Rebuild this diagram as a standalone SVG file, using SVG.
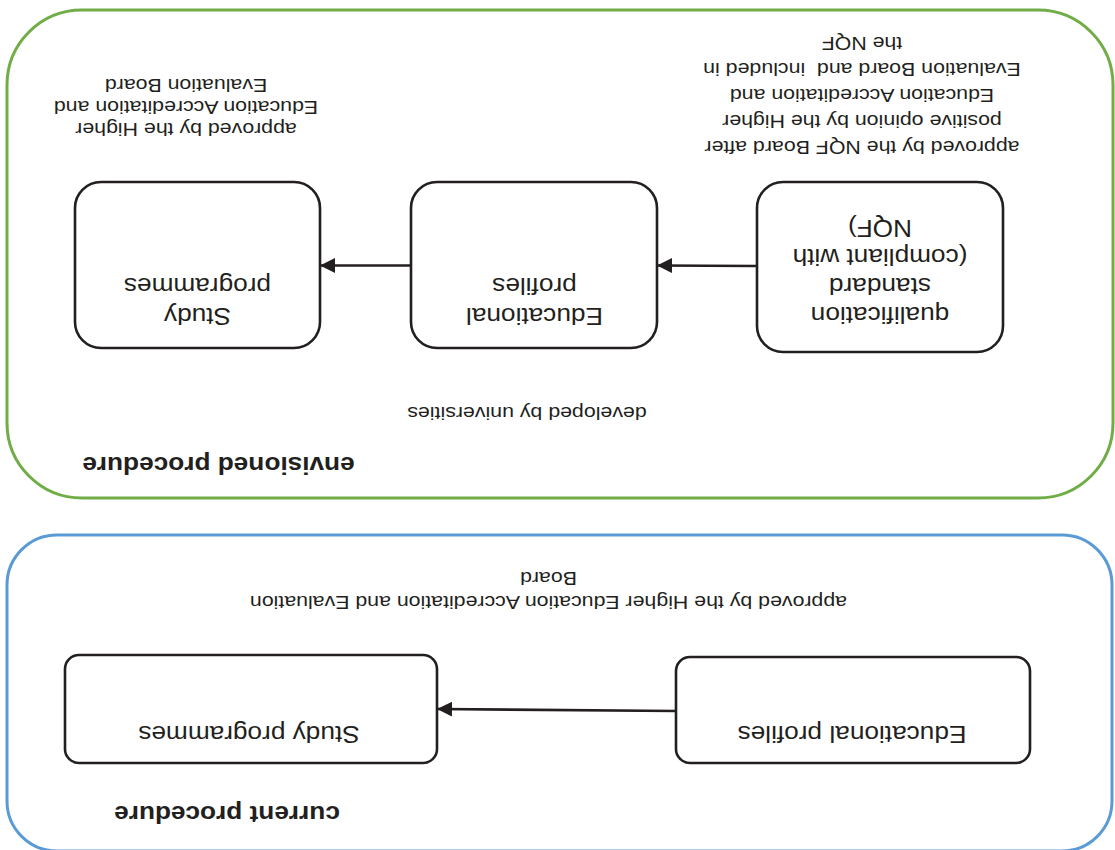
<svg xmlns="http://www.w3.org/2000/svg" width="1115" height="850" viewBox="0 0 1115 850">
<style>
.t{font-family:"Liberation Sans",Arial,sans-serif;fill:#231f20;text-anchor:middle}
.s{font-size:18.7px}
.n{font-size:23px}
.b{font-size:23px;font-weight:bold}
.pre{white-space:pre}
.node{fill:#fff;stroke:#231f20;stroke-width:2.6}
.edge{stroke:#231f20;stroke-width:2.6;fill:none}
</style>
<defs>
<marker id="arr" viewBox="0 0 15 15" refX="14" refY="7.5" markerWidth="15" markerHeight="15" markerUnits="userSpaceOnUse" orient="auto">
<path d="M0,0 L15,7.5 L0,15 Z" fill="#231f20"/>
</marker>
</defs>
<rect width="1115" height="850" fill="#fff"/>
<g transform="rotate(180 557.5 425)">
<g id="current">
<rect x="3" y="-1" width="1105" height="316" rx="50" fill="none" stroke="#5b9bd5" stroke-width="3"/>
<text class="t b" transform="translate(888,44) scale(1.14,1)">current procedure</text>
<text class="t s" transform="translate(566.5,254.5) scale(1.14,1)">approved by the Higher Education Accreditation and Evaluation</text>
<text class="t s" transform="translate(566.5,278.5) scale(1.14,1)">Board</text>
</g>
<g id="envisioned">
<rect x="2" y="352" width="1106" height="488" rx="75" fill="none" stroke="#70ad47" stroke-width="3"/>
<text class="t b" transform="translate(896.5,393) scale(1.14,1)">envisioned procedure</text>
<text class="t s" transform="translate(588,443) scale(1.14,1)">developed by universities</text>
<text class="t s" transform="translate(929,727) scale(1.14,1)">approved by the Higher</text>
<text class="t s" transform="translate(929,749) scale(1.14,1)">Education Accreditation and</text>
<text class="t s" transform="translate(929,771) scale(1.14,1)">Evaluation Board</text>
<text class="t s" transform="translate(253,709) scale(1.14,1)">approved by the NQF Board after</text>
<text class="t s" transform="translate(253,735) scale(1.14,1)">positive opinion by the Higher</text>
<text class="t s" transform="translate(253,761) scale(1.14,1)">Education Accreditation and</text>
<text class="t s pre" xml:space="preserve" transform="translate(253,787) scale(1.14,1)">Evaluation Board and  included in</text>
<text class="t s" transform="translate(253,813) scale(1.14,1)">the NQF</text>
</g>
<g id="cur-edu">
<rect class="node" x="85" y="87" width="354" height="106" rx="14"/>
<text class="t n" transform="translate(263,124) scale(1.14,1)">Educational profiles</text>
</g>
<g id="cur-study">
<rect class="node" x="678" y="87" width="372" height="108" rx="14"/>
<text class="t n" transform="translate(866,124.5) scale(1.14,1)">Study programmes</text>
</g>
<g id="env-qual">
<rect class="node" x="112" y="498" width="246" height="170" rx="26"/>
<text class="t n" transform="translate(235,543) scale(1.14,1)">qualification</text>
<text class="t n" transform="translate(235,572) scale(1.14,1)">standard</text>
<text class="t n" transform="translate(235,601) scale(1.14,1)">(compliant with</text>
<text class="t n" transform="translate(235,630) scale(1.14,1)">NQF)</text>
</g>
<g id="env-edu">
<rect class="node" x="458" y="502" width="246" height="166" rx="26"/>
<text class="t n" transform="translate(580.5,542) scale(1.14,1)">Educational</text>
<text class="t n" transform="translate(580.5,572) scale(1.14,1)">profiles</text>
</g>
<g id="env-study">
<rect class="node" x="795" y="502" width="245" height="166" rx="26"/>
<text class="t n" transform="translate(917.5,542) scale(1.14,1)">Study</text>
<text class="t n" transform="translate(917.5,572) scale(1.14,1)">programmes</text>
</g>
<g id="connectors">
<line class="edge" x1="439" y1="139" x2="677" y2="141" marker-end="url(#arr)"/>
<line class="edge" x1="358" y1="584" x2="457" y2="584.5" marker-end="url(#arr)"/>
<line class="edge" x1="704" y1="584.5" x2="794" y2="584.5" marker-end="url(#arr)"/>
</g>
</g>
</svg>
